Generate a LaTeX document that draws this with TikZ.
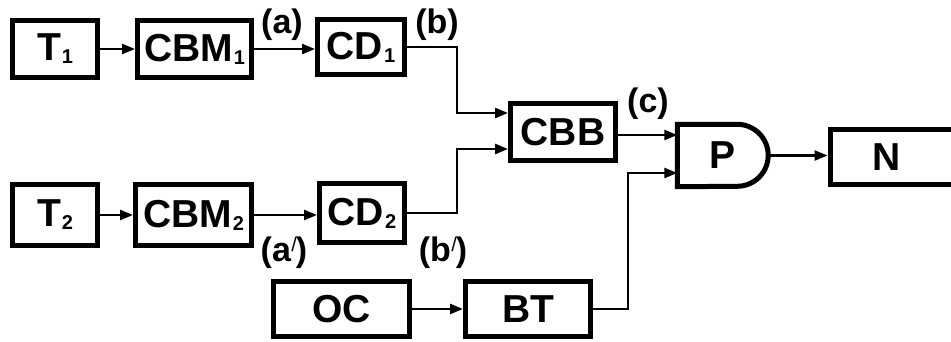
\documentclass[tikz,border=0pt]{standalone}
\usepackage{fontspec}
\setmainfont{Liberation Sans}
\usetikzlibrary{arrows.meta}

% small lowered index after a block name
\newcommand\blkidx[1]{\kern1pt\raisebox{-3pt}{\fontsize{20}{20}\selectfont\bfseries #1}}
% thin prime after a signal letter
\newcommand\sigprime{\kern0.5pt\raisebox{10pt}{\fontsize{20}{20}\selectfont\mdseries /}\kern-1pt}

\begin{document}
\begin{tikzpicture}[x=1pt,y=1pt,
  blk/.style={draw=black, line width=5pt, rectangle, inner sep=0pt,
    font=\fontsize{39}{44}\selectfont\bfseries},
  sig/.style={font=\fontsize{34}{38}\selectfont\bfseries, inner sep=0pt, anchor=base},
  arr/.style={line width=2.5pt, -{Triangle[length=13pt,width=10pt]}},
  wire/.style={line width=2.5pt}
]
\useasboundingbox (0,0) rectangle (951,341);

% upper chain
\node[blk, minimum width=85pt, minimum height=57pt] (t1) at (55,292) {T\blkidx{1}};
\node[blk, minimum width=114pt, minimum height=57pt] (cbm1) at (194.5,292) {CBM\blkidx{1}};
\node[blk, minimum width=87pt, minimum height=55pt] (cd1) at (361,294) {CD\blkidx{1}};

% lower chain
\node[blk, minimum width=85pt, minimum height=61pt] (t2) at (55,126) {T\blkidx{2}};
\node[blk, minimum width=116pt, minimum height=61pt] (cbm2) at (193.5,126) {CBM\blkidx{2}};
\node[blk, minimum width=85pt, minimum height=59pt] (cd2) at (362,128) {CD\blkidx{2}};

% combiner, oscillator branch
\node[blk, minimum width=105pt, minimum height=57pt] (cbb) at (563,209) {CBB};
\node[blk, minimum width=136pt, minimum height=55pt] (oc) at (341.5,32) {OC};
\node[blk, minimum width=125pt, minimum height=55pt] (bt) at (528,32) {BT};

% gate P (D-shaped outline)
\node[inner sep=0pt, minimum width=90.5pt, minimum height=62pt,
      font=\fontsize{39}{44}\selectfont\bfseries] (p) at (722.75,185.5) {P};
\draw[line width=5pt, line join=miter]
  (p.north west) -- ([xshift=-31pt]p.north east)
  arc[start angle=90, end angle=-90, radius=31pt]
  -- (p.south west) -- cycle;

% output block, running off the right edge
\node[draw=black, line width=5pt, inner sep=0pt, minimum width=140pt,
      minimum height=55pt, anchor=west] (n) at (827.5,184) {};
\node[font=\fontsize{39}{44}\selectfont\bfseries, inner sep=0pt] (nlab) at (887,184) {N};

% junction columns and input points
\coordinate (jx) at (457,0);
\coordinate (kx) at (628,0);
\coordinate (cbbin1) at ([yshift=19pt]cbb.west);
\coordinate (cbbin2) at ([yshift=-17pt]cbb.west);
\coordinate (pin1) at ([yshift=20.5pt]p.west);
\coordinate (pin2) at ([yshift=-17.5pt]p.west);

% connectors
\draw[arr] (t1.east) -- (t1.east -| cbm1.west);
\draw[arr] (cbm1.east) -- (cbm1.east -| cd1.west);
\draw[arr] (t2.east) -- (t2.east -| cbm2.west);
\draw[arr] (cbm2.east) -- (cbm2.east -| cd2.west);
\draw[arr] (cd1.east) -| (jx |- cbbin1) -- (cbbin1);
\draw[arr] (cd2.east) -| (jx |- cbbin2) -- (cbbin2);
\draw[arr] (cbb.east |- pin1) -- (pin1);
\draw[arr] (oc.east) -- (bt.west);
\draw[arr] (bt.east) -| (kx |- pin2) -- (pin2);
\draw[arr] (p.east) -- (p.east -| n.west);

% signal labels
\node[sig] (la) at (282,308) {(a)};
\node[sig] (lb) at (437,308) {(b)};
\node[sig] (lc) at (648,229) {(c)};
\node[sig] (la2) at (284,80) {(a\sigprime)};
\node[sig] (lb2) at (443,80) {(b\sigprime)};
\end{tikzpicture}
\end{document}
